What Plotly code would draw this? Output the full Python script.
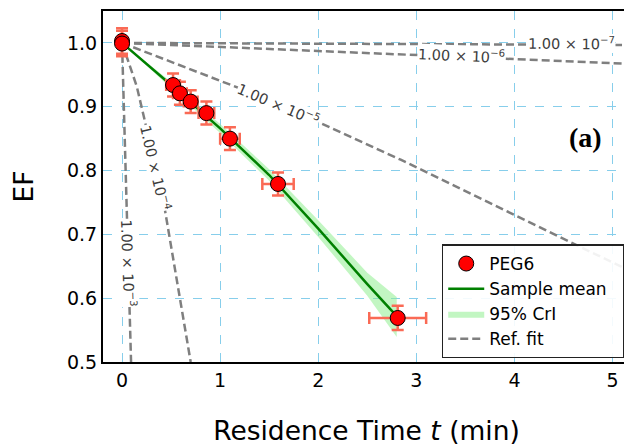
import plotly.graph_objects as go

# Observed data (PEG6)
t_obs = [0.0, 0.0, 0.52, 0.59, 0.70, 0.86, 1.10, 1.59, 2.81]
ef_obs = [1.003, 0.999, 0.934, 0.921, 0.908, 0.890, 0.850, 0.779, 0.569]
t_err = [0.02, 0.02, 0.07, 0.07, 0.07, 0.08, 0.10, 0.16, 0.29]
ef_err = [0.02, 0.02, 0.018, 0.018, 0.018, 0.018, 0.018, 0.018, 0.019]

# Sample mean and 95% CrI
mean_t = [0.0, 0.5, 1.0, 1.5, 2.0, 2.5, 2.8]
mean_ef = [1.0, 0.934, 0.866, 0.793, 0.709, 0.622, 0.572]
band_hi = [1.0, 0.939, 0.873, 0.802, 0.722, 0.640, 0.602]
band_lo = [1.0, 0.929, 0.859, 0.784, 0.696, 0.604, 0.539]

# Reference fits
ref_t_1e7 = [0.0, 5.2]
ref_ef_1e7 = [1.0, 0.9968]
ref_t_1e6 = [0.0, 2.84, 4.01, 5.2]
ref_ef_1e6 = [1.0, 0.982, 0.974, 0.967]
ref_t_1e5 = [0.0, 1.5, 2.84, 4.74, 5.2]
ref_ef_1e5 = [1.0, 0.911, 0.817, 0.676, 0.641]
ref_t_1e4 = [0.0, 0.15, 0.42, 0.70]
ref_ef_1e4 = [1.0, 0.932, 0.754, 0.5]
ref_t_1e3 = [0.0, 0.045, 0.092]
ref_ef_1e3 = [1.0, 0.754, 0.5]

# Contour-style labels
ref_labels = ["1.00 × 10<sup>−7</sup>", "1.00 × 10<sup>−6</sup>", "1.00 × 10<sup>−5</sup>",
              "1.00 × 10<sup>−4</sup>", "1.00 × 10<sup>−3</sup>"]
label_t = [4.58, 3.46, 1.59, 0.344, 0.066]
label_ef = [0.9993, 0.981, 0.904, 0.804, 0.655]
label_angle = [0.5, 2.5, 23, 77, 88]

# Legend names
legend_names = ["PEG6", "Sample mean", "95% CrI", "Ref. fit"]

x_ticks = [0, 1, 2, 3, 4, 5]
y_ticks = [0.5, 0.6, 0.7, 0.8, 0.9, 1.0]

FONT = "DejaVu Sans"
PAD = "\u00a0\u00a0"

fig = go.Figure()

ref_sets = [(ref_t_1e7, ref_ef_1e7), (ref_t_1e6, ref_ef_1e6), (ref_t_1e5, ref_ef_1e5),
            (ref_t_1e4, ref_ef_1e4), (ref_t_1e3, ref_ef_1e3)]
for i, (tt, ee) in enumerate(ref_sets):
    fig.add_trace(go.Scatter(
        x=tt, y=ee, mode="lines",
        line=dict(color="#7f7f7f", width=2.5, dash="8px,4px"),
        name=legend_names[3] + PAD, legendgroup="ref", showlegend=(i == 0), legendrank=4,
    ))

fig.add_trace(go.Scatter(
    x=mean_t + mean_t[::-1], y=band_hi + band_lo[::-1],
    fill="toself", fillcolor="rgba(144,238,144,0.55)",
    line=dict(width=0, color="rgba(144,238,144,0.55)"),
    mode="lines", name=legend_names[2] + PAD, legendrank=3,
))

fig.add_trace(go.Scatter(
    x=mean_t, y=mean_ef, mode="lines",
    line=dict(color="green", width=2.5),
    name=legend_names[1] + PAD, legendrank=2,
))

fig.add_trace(go.Scatter(
    x=t_obs, y=ef_obs, mode="markers",
    marker=dict(color="red", size=15, line=dict(color="black", width=1)),
    error_x=dict(type="data", array=t_err, color="#fa6a55", thickness=2.5, width=6),
    error_y=dict(type="data", array=ef_err, color="#fa6a55", thickness=2.5, width=6),
    name=legend_names[0] + PAD, legendrank=1,
))

for txt, lt, le, ang in zip(ref_labels, label_t, label_ef, label_angle):
    fig.add_annotation(
        x=lt, y=le, xref="x", yref="y", text=txt, showarrow=False,
        textangle=ang, font=dict(family=FONT, size=14.5, color="#3c3c3c"),
        bgcolor="white", borderpad=0, xanchor="center", yanchor="middle",
    )

fig.add_annotation(
    x=0.915, y=0.641, xref="paper", yref="paper", text="<b>(a)</b>", showarrow=False,
    font=dict(family="Liberation Serif", size=28, color="black"),
    xanchor="center", yanchor="middle",
)

axis_common = dict(
    showgrid=True, gridcolor="#87CEEB", griddash="dash", gridwidth=1.2,
    showline=True, linecolor="black", linewidth=2, mirror=True,
    zeroline=False, ticks="", automargin=False,
    tickfont=dict(family=FONT, size=19, color="black"),
)

fig.update_xaxes(
    range=[-0.194, 5.178], tickvals=x_ticks, tickformat="d",
    title=dict(text="Residence Time <i>t</i> (min)", font=dict(family=FONT, size=26.5, color="black"), standoff=33),
    **axis_common,
)
fig.update_yaxes(
    range=[0.5, 1.05], tickvals=y_ticks, tickformat=".1f",
    title=dict(text="EF", font=dict(family=FONT, size=26.5, color="black"), standoff=33),
    **axis_common,
)

# page body has an 8px default margin; size the figure to fit the window
fig.update_layout(
    width=624, height=438,
    margin=dict(l=95, r=2, t=3, b=84),
    plot_bgcolor="white", paper_bgcolor="white",
    showlegend=True,
    legend=dict(
        x=0.990, y=0.01, xanchor="right", yanchor="bottom",
        bgcolor="rgba(255,255,255,0.9)", bordercolor="#222", borderwidth=1.5,
        font=dict(family=FONT, size=17, color="black"),
        traceorder="normal", itemwidth=36, tracegroupgap=0,
    ),
)

fig.write_html("out.html")
